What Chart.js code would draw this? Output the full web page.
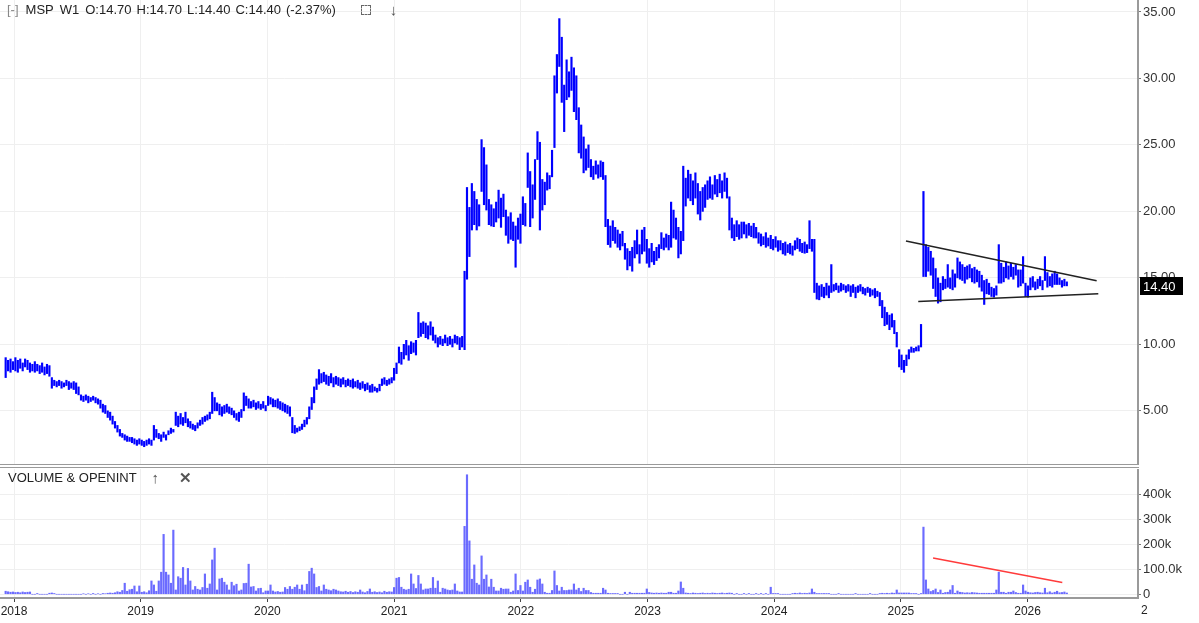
<!DOCTYPE html>
<html>
<head>
<meta charset="utf-8">
<title>MSP W1</title>
<script src="https://cdn.jsdelivr.net/npm/chart.js@4.4.1/dist/chart.umd.min.js"></script>
<style>
  html, body { margin: 0; padding: 0; background: #fff; }
  body { position: relative; width: 1199px; height: 623px; overflow: hidden;
         font-family: "Liberation Sans", Arial, sans-serif; font-size: 13px; color: #222; }
  canvas { position: absolute; left: 0; }
  #price { top: 0; }
  #volume { top: 469px; }
  .hdr { position: absolute; display: flex; align-items: center; white-space: pre; line-height: 16px; }
  #priceHdr { left: 7px; top: 2px; }
  #volHdr { left: 8px; top: 470px; }
  .muted { color: #888; }
  .arrow { color: #555; font-size: 15px; font-weight: bold; }
  .corners { display: inline-block; width: 8px; height: 8px; border: 1px dashed #666; }
  .sep { position: absolute; left: 0; top: 464px; width: 1139px; height: 2px;
         border-top: 1px solid #9a9a9a; border-bottom: 1px solid #9a9a9a; }
  #cut { position: absolute; left: 1141px; top: 603px; width: 7px; overflow: hidden; font-size: 12px; white-space: pre; }
</style>
</head>
<body>
<canvas id="price" width="1199" height="464"></canvas>
<div class="sep"></div>
<canvas id="volume" width="1199" height="154"></canvas>

<div class="hdr" id="priceHdr">
  <span class="muted">[-]</span>
  <span style="margin-left:7px">MSP</span>
  <span style="margin-left:6px">W1</span>
  <span style="margin-left:6px">O:14.70</span>
  <span style="margin-left:5px">H:14.70</span>
  <span style="margin-left:5px">L:14.40</span>
  <span style="margin-left:5px">C:14.40</span>
  <span style="margin-left:5px">(-2.37%)</span>
  <span class="corners" style="margin-left:25px"></span>
  <span class="arrow" style="margin-left:19px">↓</span>
</div>
<div class="hdr" id="volHdr">
  <span>VOLUME &amp; OPENINT</span>
  <span class="arrow" style="margin-left:15px">↑</span>
  <span class="arrow" style="margin-left:20px">✕</span>
</div>
<div id="cut">2027</div>

<script>
// weekly bars, first week ending 2017-12-08
const firstWeek = Date.UTC(2017, 11, 8);

const hi = [
  9.0,8.8,8.9,8.7,9.0,8.8,8.9,8.6,8.9,8.8,
  8.6,8.5,8.7,8.5,8.4,8.6,8.3,8.5,8.4,7.5,
  7.3,7.2,7.3,7.2,7.1,7.3,7.2,7.1,7.2,7.1,
  6.8,6.2,6.1,6.2,6.1,6.0,6.1,6.0,5.9,5.8,
  5.5,5.4,5.0,4.9,4.6,4.2,3.9,3.6,3.3,3.2,
  3.1,3.0,3.0,2.9,2.8,2.9,2.8,2.7,2.8,2.9,
  2.8,3.9,3.6,3.3,3.2,3.4,3.2,3.5,3.7,3.6,
  4.9,4.6,4.8,4.5,4.9,4.4,4.2,4.0,3.9,4.1,
  4.3,4.5,4.6,4.7,4.9,6.4,6.0,5.6,5.5,5.3,
  5.4,5.5,5.3,5.2,5.0,4.8,4.9,5.1,6.35,6.1,
  5.9,5.7,5.8,5.6,5.7,5.5,5.7,5.4,6.1,6.0,
  5.9,5.8,5.9,5.7,5.6,5.5,5.4,5.3,4.5,3.9,
  3.7,3.8,4.0,4.3,4.5,5.3,6.0,6.8,7.4,8.1,
  7.8,7.9,7.7,7.6,7.8,7.5,7.6,7.5,7.4,7.5,
  7.3,7.4,7.3,7.4,7.2,7.3,7.1,7.2,7.0,7.1,
  6.9,7.0,6.8,6.7,7.0,7.4,7.5,7.3,7.4,7.5,
  8.2,8.6,9.8,9.4,10.0,10.3,9.9,10.2,10.1,10.3,
  12.4,11.6,11.7,11.6,11.4,11.7,11.3,10.7,10.5,10.6,
  10.4,10.7,10.5,10.6,10.4,10.7,10.6,10.5,10.6,15.5,
  21.8,20.3,22.1,21.5,20.9,20.5,25.4,24.8,23.5,20.9,
  20.5,20.2,20.7,21.6,21.0,21.3,20.1,19.6,19.9,19.2,
  18.9,19.5,19.8,21.1,20.6,24.4,23.0,22.0,23.9,26.0,
  25.2,22.4,22.2,22.9,22.7,24.6,30.2,31.8,34.5,33.1,
  29.5,31.4,30.5,31.6,30.8,30.2,27.8,26.5,25.6,24.7,
  25.0,23.9,23.4,23.8,23.5,23.8,23.7,22.7,19.4,18.9,
  19.3,18.8,18.6,18.3,18.5,17.6,17.2,17.0,17.3,17.8,
  18.6,17.5,18.6,18.8,17.9,17.2,17.6,17.0,17.3,17.5,
  18.4,18.0,18.3,18.2,20.7,20.1,19.5,18.8,18.5,23.4,
  22.5,23.1,22.8,22.3,22.9,22.1,21.5,21.8,22.0,22.3,
  22.6,22.0,22.7,22.4,22.8,22.3,22.9,22.5,21.1,19.5,
  19.0,19.3,19.0,19.2,19.2,19.0,19.1,18.9,19.1,18.8,
  18.4,18.3,18.1,18.4,18.0,18.2,17.9,18.1,17.8,17.8,
  17.6,17.7,17.5,17.6,17.4,17.8,18.0,17.9,17.6,17.7,
  17.5,19.3,17.9,17.9,14.6,14.4,14.5,14.3,14.6,14.4,
  16.0,14.5,14.6,14.4,14.6,14.5,14.4,14.5,14.4,14.5,
  14.3,14.4,14.5,14.3,14.2,14.3,14.2,14.1,14.2,14.0,
  13.9,13.3,12.8,12.4,12.2,12.3,11.8,10.9,9.6,9.2,
  8.8,9.2,9.6,9.8,9.7,9.8,9.9,11.5,21.5,17.5,
  17.3,17.0,16.5,15.7,15.0,14.6,15.1,14.9,16.0,15.0,
  15.6,15.3,16.5,16.2,16.0,15.8,15.9,16.0,15.7,15.8,
  15.6,15.5,15.2,14.8,14.9,14.6,14.3,14.2,14.4,17.5,
  16.1,15.8,16.2,15.9,16.1,15.8,16.0,15.6,15.6,16.6,
  14.6,14.4,15.0,15.1,14.7,14.9,15.1,14.8,16.6,15.4,
  15.1,15.3,15.5,15.3,15.0,14.8,14.9,14.7
];

const lo = [
  7.5,8.0,7.9,8.1,8.0,7.9,8.2,8.0,8.3,8.1,
  7.9,8.0,7.9,8.0,7.8,7.9,7.7,7.8,7.6,6.7,
  6.9,6.8,6.9,6.7,6.8,6.9,6.6,6.7,6.6,6.3,
  6.2,5.8,5.7,5.8,5.6,5.7,5.8,5.6,5.5,5.2,
  4.9,4.8,4.5,4.3,4.0,3.7,3.4,3.1,3.0,2.8,
  2.7,2.7,2.6,2.5,2.4,2.5,2.4,2.3,2.4,2.5,
  2.4,2.8,3.0,2.9,2.7,3.0,2.8,3.2,3.3,3.4,
  3.9,3.8,4.0,3.9,4.1,3.8,3.7,3.6,3.5,3.7,
  3.9,4.0,4.2,4.3,4.4,4.8,5.0,5.0,4.7,4.6,
  4.8,4.9,4.8,4.7,4.5,4.3,4.2,4.5,5.0,5.4,
  5.2,5.2,5.3,5.1,5.2,5.1,5.2,5.0,5.4,5.5,
  5.3,5.3,5.2,5.1,5.0,4.9,4.8,4.6,3.35,3.3,
  3.4,3.5,3.6,3.8,4.0,4.4,5.1,5.6,6.6,7.0,
  7.1,7.2,7.0,6.9,7.1,6.8,7.0,6.9,6.8,7.0,
  6.8,6.9,6.8,6.7,6.8,6.7,6.6,6.7,6.5,6.6,
  6.4,6.4,6.5,6.4,6.5,6.9,7.0,6.9,7.0,7.1,
  7.3,7.8,8.6,8.5,8.9,9.2,8.8,9.3,9.4,9.2,
  10.5,10.6,10.8,10.5,10.4,10.7,10.3,10.1,9.8,10.0,
  9.9,10.1,9.9,10.0,9.8,10.1,10.0,9.6,9.8,9.6,
  14.9,16.6,18.6,19.0,18.6,18.9,21.5,20.5,20.1,19.0,
  18.9,18.85,19.2,19.5,18.8,19.6,18.2,17.6,17.9,17.8,
  15.8,17.9,17.6,19.0,18.9,21.8,18.85,19.5,20.9,23.9,
  18.6,20.1,20.5,21.6,21.7,22.6,24.8,28.9,30.9,28.2,
  26.0,28.4,28.6,29.1,27.5,26.9,24.4,24.0,22.9,23.1,
  23.3,22.6,22.4,22.8,22.5,22.6,22.4,18.85,17.5,17.3,
  17.8,17.6,17.3,17.1,17.4,16.4,15.6,15.9,15.5,16.5,
  16.8,16.1,16.8,17.0,16.1,15.8,16.2,16.0,16.3,16.5,
  17.2,17.1,17.3,17.1,17.3,18.0,17.9,16.5,16.8,17.8,
  20.4,21.0,20.8,20.5,21.0,19.8,19.35,20.0,20.3,20.9,
  21.0,20.9,21.3,21.1,21.4,21.0,21.5,21.0,18.6,18.0,
  17.8,18.1,17.9,18.0,18.3,18.0,18.2,18.1,18.0,18.0,
  17.6,17.4,17.5,17.3,17.4,17.2,17.1,17.3,17.0,17.1,
  16.8,16.7,16.9,16.8,16.7,17.1,17.2,17.0,16.9,16.85,
  16.9,17.2,17.0,13.9,13.4,13.35,13.6,13.5,13.7,13.5,
  13.9,14.0,14.1,13.9,14.0,14.1,13.9,14.0,13.6,13.9,
  13.5,13.9,14.0,13.8,13.7,13.9,13.6,13.7,13.5,13.6,
  12.9,12.0,11.4,11.5,11.1,11.3,10.8,9.8,8.3,8.1,
  7.9,8.4,8.9,9.4,9.4,9.5,9.5,9.8,15.1,15.1,
  15.5,15.2,14.2,13.6,13.1,13.2,14.1,14.2,14.3,14.2,
  14.1,14.3,15.0,14.9,14.8,14.6,14.9,15.0,14.7,14.6,
  14.7,14.3,14.0,13.0,13.8,13.75,13.6,13.55,13.7,14.6,
  14.6,14.7,15.0,14.9,15.1,14.9,15.2,14.3,14.4,14.6,
  13.6,13.55,14.1,14.3,14.1,14.2,14.4,14.1,14.8,14.3,
  14.4,14.3,14.5,14.5,14.5,14.3,14.4,14.4
];

// volume in thousands
const vol = [
  12,10,8,9,7,8,6,9,7,8,
  9,0,0,3,0,0,0,0,4,5,
  3,0,0,0,0,0,0,0,0,0,
  0,0,2,0,2,0,3,0,2,0,
  3,2,4,5,4,6,10,8,15,44,
  12,18,20,33,10,33,8,10,6,14,
  53,37,12,53,88,239,88,77,44,256,
  17,70,64,107,37,103,53,17,31,20,
  17,27,81,24,41,137,184,17,61,64,
  48,37,17,48,34,40,13,17,43,44,
  120,29,31,13,23,24,6,13,13,37,
  13,9,11,8,9,27,20,31,20,28,
  37,20,37,14,40,91,104,81,27,31,
  13,37,20,17,14,20,17,13,10,9,
  12,8,11,7,10,8,17,9,6,11,
  21,8,10,7,9,6,12,8,10,9,
  27,64,67,28,20,17,20,81,41,23,
  75,41,17,21,21,24,67,24,53,8,
  24,21,17,15,17,41,13,9,9,271,
  477,213,60,117,44,37,153,60,77,29,
  60,28,13,13,24,20,21,21,8,13,
  81,15,35,13,48,57,28,8,20,57,
  61,41,8,4,4,15,93,35,13,28,
  15,15,17,17,41,17,24,11,24,15,
  15,7,4,4,4,4,24,17,4,3,
  3,3,3,0,0,8,0,8,4,4,
  4,4,4,4,21,7,5,4,5,4,
  5,4,4,8,8,4,4,13,49,24,
  5,4,3,5,4,3,4,5,3,4,
  3,5,4,3,4,5,3,4,5,4,
  0,3,0,0,3,0,3,0,0,3,
  0,3,0,3,0,28,3,3,3,0,
  0,0,0,0,3,4,3,5,3,4,
  3,5,21,8,3,3,3,3,3,3,
  0,0,0,3,0,0,0,0,0,0,
  3,0,0,0,0,0,3,0,0,0,
  3,4,3,4,3,5,4,17,5,5,
  5,5,5,3,3,3,0,3,268,57,
  21,11,15,21,7,17,4,7,8,17,
  35,4,13,8,7,5,6,5,7,6,
  5,4,4,4,4,4,4,4,17,88,
  8,8,4,8,8,13,7,4,4,37,
  13,8,6,5,7,8,6,5,24,6,
  10,5,8,12,6,7,9,5
];

const lastClose = 14.40;
const yearTicks = [2018, 2019, 2020, 2021, 2022, 2023, 2024, 2025, 2026];
const priceTicks = [5, 10, 15, 20, 25, 30, 35];
const volTicks = [0, 100000, 200000, 300000, 400000];
const volTickLabels = ['0', '100.0k', '200k', '300k', '400k'];

// drawn trendlines (decimal year, value)
const triangleUpper = [{ x: 2025.040, y: 17.77 }, { x: 2026.545, y: 14.79 }];
const triangleLower = [{ x: 2025.137, y: 13.22 }, { x: 2026.558, y: 13.80 }];
const volumeTrend = [{ x: 2025.254, y: 145000 }, { x: 2026.274, y: 47000 }];

const X_MIN = 2017.8895, X_MAX = 2026.8714;
const AXIS_W = 61;

function weekToYear(i) {
    const d = firstWeek + i * 7 * 86400000;
    const y = new Date(d).getUTCFullYear();
    const start = Date.UTC(y, 0, 1), end = Date.UTC(y + 1, 0, 1);
    return y + (d - start) / (end - start);
}

const weeks = hi.map((_, i) => weekToYear(i));

Chart.defaults.font.family = '"Liberation Sans", Arial, sans-serif';
Chart.defaults.font.size = 13;
Chart.defaults.color = '#333';

const gridColor = '#efefef';

function xScale(showLabels) {
    return {
        type: 'linear',
        min: X_MIN,
        max: X_MAX,
        offset: false,
        afterBuildTicks: s => { s.ticks = yearTicks.map(v => ({ value: v })); },
        afterFit: s => { s.height = showLabels ? 25 : 0; s.paddingLeft = 0; s.paddingRight = 0; },
        grid: { offset: false, color: gridColor, drawTicks: showLabels, tickLength: 4, tickColor: '#444' },
        border: showLabels ? { color: '#9a9a9a', width: 2 } : { display: false },
        ticks: showLabels
            ? { display: true, maxRotation: 0, autoSkip: false, padding: 2, color: '#222', font: { size: 12 }, callback: v => String(v) }
            : { display: false }
    };
}

function yScale(min, max, ticks, fmt) {
    return {
        position: 'right',
        min, max,
        afterBuildTicks: s => { s.ticks = ticks.map(v => ({ value: v })); },
        afterFit: s => { s.width = AXIS_W; s.paddingTop = 0; s.paddingBottom = 0; },
        grid: { color: gridColor, tickLength: 3, tickColor: '#777' },
        border: { color: '#9a9a9a', width: 2 },
        ticks: { padding: 2, color: '#333', callback: fmt }
    };
}

const lastPriceTag = {
    id: 'lastPriceTag',
    afterDraw(chart) {
        const { ctx, chartArea, scales } = chart;
        const y = scales.y.getPixelForValue(lastClose);
        ctx.save();
        ctx.fillStyle = '#000';
        ctx.fillRect(chartArea.right + 2, Math.round(y) - 9, 43, 18);
        ctx.fillStyle = '#fff';
        ctx.font = '13px "Liberation Sans", Arial, sans-serif';
        ctx.textBaseline = 'middle';
        ctx.fillText(lastClose.toFixed(2), chartArea.right + 5, Math.round(y) + 1);
        ctx.restore();
    }
};

const common = {
    responsive: false,
    animation: false,
    devicePixelRatio: 1,
    layout: { padding: 0 },
    plugins: { legend: { display: false }, tooltip: { enabled: false } }
};

new Chart(document.getElementById('price'), {
    type: 'bar',
    data: {
        datasets: [
            {
                type: 'bar',
                data: weeks.map((x, i) => ({ x, y: [lo[i], hi[i]] })),
                backgroundColor: '#0000ff',
                barThickness: 1.5,
                order: 2
            },
            { type: 'line', data: triangleUpper, borderColor: '#222', borderWidth: 1.5, pointRadius: 0, order: 1 },
            { type: 'line', data: triangleLower, borderColor: '#222', borderWidth: 1.5, pointRadius: 0, order: 1 }
        ]
    },
    options: {
        ...common,
        scales: {
            x: xScale(false),
            y: yScale(1.0, 35.9, priceTicks, v => Number(v).toFixed(2))
        }
    },
    plugins: [lastPriceTag]
});

new Chart(document.getElementById('volume'), {
    type: 'bar',
    data: {
        datasets: [
            {
                type: 'bar',
                data: weeks.map((x, i) => ({ x, y: vol[i] * 1000 })),
                backgroundColor: 'rgba(70, 70, 255, 0.8)',
                barThickness: 1.5,
                order: 2
            },
            { type: 'line', data: volumeTrend, borderColor: '#ff3b3b', borderWidth: 1.5, pointRadius: 0, order: 1 }
        ]
    },
    options: {
        ...common,
        scales: {
            x: xScale(true),
            y: yScale(-15000, 500000, volTicks, v => volTickLabels[volTicks.indexOf(v)])
        }
    }
});
</script>
</body>
</html>
